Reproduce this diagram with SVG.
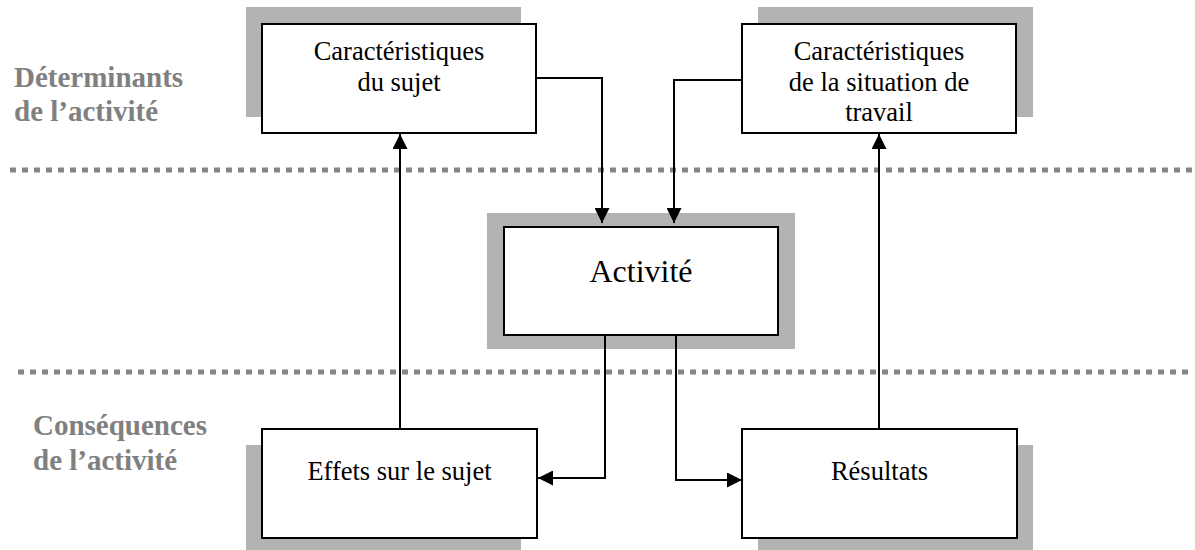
<svg xmlns="http://www.w3.org/2000/svg" width="1195" height="550" viewBox="0 0 1195 550">
  <style>
    .shadow { fill: #b3b3b3; }
    .box { fill: #ffffff; stroke: #000000; stroke-width: 2; }
    .txt { font-family: "Liberation Serif", "Times New Roman", serif; font-size: 26.5px; fill: #000000; text-anchor: middle; }
    .big { font-size: 32px; }
    .lbl { font-family: "Liberation Serif", "Times New Roman", serif; font-size: 29px; font-weight: bold; fill: #808080; }
    .dots { stroke: #858585; stroke-width: 5; stroke-dasharray: 6 6; fill: none; }
    .conn { stroke: #000000; stroke-width: 2; fill: none; }
  </style>
  <defs>
    <marker id="arrow" viewBox="0 0 10 10" refX="10" refY="5" markerWidth="7.5" markerHeight="7.5" markerUnits="strokeWidth" orient="auto">
      <path d="M0,0 L10,5 L0,10 Z" fill="#000000"/>
    </marker>
  </defs>
  <rect width="1195" height="550" fill="#ffffff"/>

  <g id="separators">
    <line class="dots" x1="10" y1="170" x2="1192" y2="170"/>
    <line class="dots" x1="18" y1="372" x2="1192" y2="372"/>
  </g>

  <g id="label-determinants">
    <text class="lbl" x="14" y="87">Déterminants</text>
    <text class="lbl" x="14" y="121">de l’activité</text>
  </g>
  <g id="label-consequences">
    <text class="lbl" x="33" y="435">Conséquences</text>
    <text class="lbl" x="33" y="470">de l’activité</text>
  </g>

  <g id="node-sujet">
    <rect class="shadow" x="246" y="7" width="275" height="110"/>
    <rect class="box" x="262" y="24" width="274" height="109"/>
    <text class="txt" x="399" y="60">Caractéristiques</text>
    <text class="txt" x="399" y="91">du sujet</text>
  </g>

  <g id="node-situation">
    <rect class="shadow" x="758" y="7" width="275" height="110"/>
    <rect class="box" x="742" y="24" width="274" height="109"/>
    <text class="txt" x="879" y="60">Caractéristiques</text>
    <text class="txt" x="879" y="90.5">de la situation de</text>
    <text class="txt" x="879" y="121">travail</text>
  </g>

  <g id="node-activite">
    <rect class="shadow" x="487" y="213" width="308" height="136"/>
    <rect class="box" x="504" y="227" width="274" height="108"/>
    <text class="txt big" x="641" y="282">Activité</text>
  </g>

  <g id="node-effets">
    <rect class="shadow" x="246" y="445" width="275" height="110"/>
    <rect class="box" x="262" y="429" width="275" height="109"/>
    <text class="txt" x="399.5" y="480">Effets sur le sujet</text>
  </g>

  <g id="node-resultats">
    <rect class="shadow" x="758" y="445" width="275" height="110"/>
    <rect class="box" x="742" y="429" width="275" height="109"/>
    <text class="txt" x="879.5" y="480">Résultats</text>
  </g>

  <g id="connectors">
    <polyline class="conn" points="536,78 602,78 602,223" marker-end="url(#arrow)"/>
    <polyline class="conn" points="742,80 674,80 674,223" marker-end="url(#arrow)"/>
    <polyline class="conn" points="605,335 605,478 538,478" marker-end="url(#arrow)"/>
    <polyline class="conn" points="676,335 676,480 742,480" marker-end="url(#arrow)"/>
    <line class="conn" x1="400" y1="429" x2="400" y2="134" marker-end="url(#arrow)"/>
    <line class="conn" x1="879" y1="429" x2="879" y2="134" marker-end="url(#arrow)"/>
  </g>
</svg>
